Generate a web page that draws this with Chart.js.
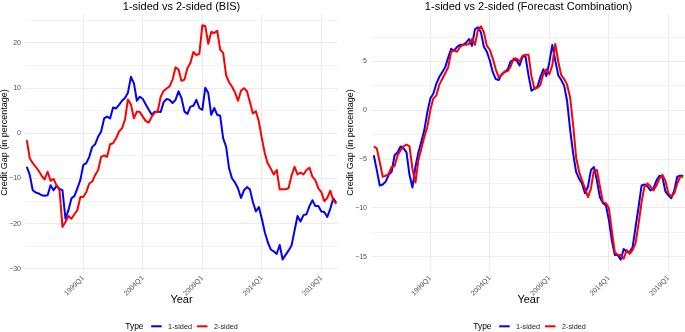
<!DOCTYPE html>
<html>
<head>
<meta charset="utf-8">
<script src="https://cdn.jsdelivr.net/npm/chart.js@4/dist/chart.umd.min.js"></script>
<style>
html,body{margin:0;padding:0;background:#fff;}
#wrap{position:relative;width:685px;height:332px;overflow:hidden;background:#fff;}
#c1{position:absolute;left:0;top:0;}
#c2{position:absolute;left:343px;top:0;}
</style>
</head>
<body>
<div id="wrap">
<canvas id="c1" width="343" height="332"></canvas>
<canvas id="c2" width="342" height="332"></canvas>
</div>
<script>
// ---------- data ----------
const firstYear = 1994, firstQuarter = 2, quarterCount = 105;
const quarters = [];
for (let k = 0; k < quarterCount; k++) {
  const q = firstQuarter - 1 + k;
  quarters.push((firstYear + Math.floor(q / 4)) + 'Q' + (q % 4 + 1));
}
const tickQuarters = ['1999Q1', '2004Q1', '2009Q1', '2014Q1', '2019Q1'];
const seriesNames = ['1-sided', '2-sided'];
const legendTitle = 'Type';
const titles = ['1-sided vs 2-sided (BIS)', '1-sided vs 2-sided (Forecast Combination)'];
const xTitle = 'Year';
const yTitle = 'Credit Gap (in percentage)';

const bisOneSided = [
  -7.4, -9.2, -12.6, -13.1, -13.3, -13.7, -13.8, -13.7, -11.5, -12.6,
  -11.6, -12.3, -12.6, -18.9, -17.0, -14.4, -13.9, -12.2, -10.3, -7.0,
  -6.6, -5.2, -3.0, -2.4, -0.7, 0.4, 3.3, 3.7, 3.3, 5.7,
  5.5, 6.3, 7.2, 7.8, 9.0, 12.5, 11.1, 7.2, 8.1, 7.6,
  6.4, 5.2, 4.1, 4.8, 4.8, 4.7, 6.9, 7.6, 7.4, 6.7,
  7.4, 9.3, 7.8, 4.8, 4.3, 5.9, 6.1, 7.4, 5.6, 5.2,
  10.1, 8.9, 4.1, 5.6, 4.1, 3.9, -1.1, -3.0, -7.8, -10.0,
  -10.9, -12.2, -14.3, -12.6, -11.9, -12.4, -15.2, -17.3, -16.3, -18.9,
  -21.9, -24.1, -25.7, -26.1, -26.7, -24.7, -27.9, -26.9, -25.9, -24.8,
  -21.5, -18.3, -19.5, -18.1, -17.9, -16.1, -14.8, -16.1, -16.1, -17.3,
  -17.4, -18.5, -16.7, -14.4, -15.3
];
const bisTwoSided = [
  -1.5, -5.5, -6.6, -7.4, -8.3, -9.4, -10.2, -8.5, -10.5, -10.1,
  -11.5, -12.6, -20.7, -19.6, -18.3, -18.9, -17.9, -17.0, -14.1, -14.1,
  -13.0, -11.1, -10.7, -9.2, -8.1, -5.2, -4.9, -5.2, -2.4, -2.2,
  -1.1, 0.4, 1.1, 3.0, 7.5, 6.4, 3.3, 4.8, 4.7, 3.7,
  2.7, 2.4, 3.7, 4.6, 4.8, 8.1, 9.4, 9.9, 10.4, 11.9,
  14.6, 14.1, 11.6, 11.9, 14.4, 15.6, 18.0, 17.3, 17.6, 23.9,
  23.7, 19.8, 22.4, 22.2, 22.7, 18.5, 17.8, 12.8, 11.3, 10.3,
  9.0, 7.2, 9.4, 10.0, 9.3, 6.9, 4.4, 4.9, 2.6, -1.1,
  -4.4, -6.7, -7.8, -9.1, -8.1, -12.4, -12.4, -12.4, -12.1, -9.3,
  -7.4, -9.1, -8.7, -9.1, -8.1, -7.6, -9.6, -10.4, -12.2, -13.0,
  -15.0, -14.3, -12.7, -14.8, -15.6
];
const fcOneSided = [
  -4.6, -6.1, -7.7, -7.6, -7.3, -6.6, -6.3, -4.6, -4.3, -3.7,
  -3.9, -4.3, -6.6, -7.9, -5.8, -4.3, -3.2, -2.0, -0.2, 1.2,
  1.7, 2.7, 3.4, 3.9, 4.4, 5.4, 6.3, 6.1, 6.5, 6.7,
  6.7, 6.9, 7.3, 6.6, 8.3, 8.5, 8.0, 6.5, 6.0, 5.1,
  3.9, 3.2, 3.1, 3.7, 3.9, 4.2, 5.0, 5.2, 5.1, 4.6,
  5.5, 5.5, 3.6, 2.0, 2.2, 2.4, 3.4, 4.2, 3.5, 4.9,
  6.7, 5.1, 3.6, 3.1, 2.5, 0.9, -2.0, -4.4, -6.3, -7.0,
  -7.5, -8.5, -7.8, -6.1, -5.8, -7.2, -8.9, -9.5, -9.7, -11.2,
  -13.3, -14.8, -14.8, -15.3, -14.2, -14.5, -14.5, -14.0, -11.9, -9.9,
  -7.7, -7.6, -7.8, -8.2, -8.0, -7.2, -6.7, -6.8, -8.3, -8.7,
  -9.0, -8.2, -6.8, -6.7, -6.7
];
const fcTwoSided = [
  -3.7, -3.9, -5.3, -6.8, -6.7, -6.5, -5.8, -5.7, -4.6, -4.1,
  -3.7, -3.5, -3.7, -6.0, -7.4, -5.1, -3.9, -2.7, -1.7, 0.0,
  1.2, 1.5, 2.6, 3.2, 3.8, 4.4, 6.0, 6.1, 6.0, 6.5,
  6.7, 6.7, 6.8, 7.3, 6.7, 8.2, 8.6, 8.0, 6.6, 6.2,
  5.3, 4.2, 3.4, 3.6, 4.0, 4.0, 4.5, 5.3, 5.3, 5.0,
  5.6, 5.7, 5.7, 3.5, 2.2, 2.3, 2.6, 3.8, 4.2, 3.7,
  4.6, 6.8, 5.0, 3.6, 3.2, 2.6, 1.3, -1.5, -4.8, -6.3,
  -7.2, -8.0, -8.9, -8.0, -6.1, -6.1, -7.8, -9.4, -9.5, -10.0,
  -12.3, -14.5, -14.8, -14.8, -15.2, -14.3, -14.7, -14.3, -13.6, -11.6,
  -9.4, -7.8, -7.5, -7.8, -8.2, -7.7, -7.0, -6.6, -7.2, -8.5,
  -8.8, -8.5, -7.5, -6.8, -6.8
];
const bisYTicks = [-30, -25, -20, -15, -10, -5, 0, 5, 10, 15, 20, 25];
const bisYMajor = [-30, -20, -10, 0, 10, 20];
const fcYTicks = [-15, -12.5, -10, -7.5, -5, -2.5, 0, 2.5, 5, 7.5];
const fcYMajor = [-15, -10, -5, 0, 5];

// ---------- drawing ----------
const FONT = '"Liberation Sans", Arial, Helvetica, sans-serif';
const COLORS = ['#0000FF', '#FF0000'];
const fmt = v => (v < 0 ? '\u2212' + Math.abs(v) : String(v));

const typeLegend = {
  id: 'typeLegend',
  afterDraw(chart, args, o) {
    const ctx = chart.ctx, ca = chart.chartArea;
    const cx = (ca.left + ca.right) / 2 + (o.shift || 0);
    ctx.save();
    ctx.font = '8.5px ' + FONT;
    const wT = ctx.measureText(legendTitle).width;
    ctx.font = '7.3px ' + FONT;
    const w = seriesNames.map(s => ctx.measureText(s).width);
    const gapT = 7.6, seg = 10.5, gapL = 6.4, gapI = 5;
    const total = wT + gapT + (seg + gapL) * 2 + w[0] + gapI + w[1];
    let x = cx - total / 2;
    const yMid = 326.3;
    ctx.fillStyle = '#000';
    ctx.textAlign = 'left';
    ctx.textBaseline = 'alphabetic';
    ctx.font = '8.5px ' + FONT;
    ctx.fillText(legendTitle, x, 329.4);
    x += wT + gapT;
    ctx.font = '7.3px ' + FONT;
    seriesNames.forEach((s, k) => {
      ctx.strokeStyle = COLORS[k];
      ctx.lineWidth = 2;
      ctx.beginPath();
      ctx.moveTo(x, yMid); ctx.lineTo(x + seg, yMid);
      ctx.stroke();
      x += seg + gapL;
      ctx.fillStyle = '#222';
      ctx.fillText(s, x, 328.9);
      x += w[k] + gapI;
    });
    ctx.restore();
  }
};

function build(id, cfg) {
  const tickIdx = tickQuarters.map(q => quarters.indexOf(q));
  const toPts = arr => arr.map((v, i) => ({ x: i, y: v }));
  return new Chart(document.getElementById(id), {
    type: 'line',
    data: {
      datasets: [
        { label: seriesNames[0], data: toPts(cfg.one), borderColor: COLORS[0], backgroundColor: COLORS[0],
          borderWidth: 2, pointRadius: 0, tension: 0, order: 2, borderJoinStyle: 'round' },
        { label: seriesNames[1], data: toPts(cfg.two), borderColor: COLORS[1], backgroundColor: COLORS[1],
          borderWidth: 2, pointRadius: 0, tension: 0, order: 1, borderJoinStyle: 'round' }
      ]
    },
    options: {
      responsive: false,
      animation: false,
      layout: { padding: { left: 0, right: cfg.padRight, top: 0, bottom: 26 } },
      plugins: {
        legend: { display: false },
        tooltip: { enabled: false },
        title: { display: true, text: cfg.title, fullSize: false, color: '#000',
                 font: { family: FONT, size: 11, weight: 'normal', lineHeight: 1 },
                 padding: { top: 1, bottom: 2 } },
        typeLegend: { shift: cfg.legendShift }
      },
      scales: {
        x: {
          type: 'linear', min: -0.6, max: quarterCount - 1 + 0.6,
          afterBuildTicks: s => { s.ticks = tickIdx.map(v => ({ value: v })); },
          afterFit: s => { s.height = 35; },
          ticks: { autoSkip: false, maxRotation: 45, minRotation: 45, padding: 3,
                   font: { family: FONT, size: 7 }, color: '#4D4D4D',
                   callback: v => quarters[v] },
          grid: { color: '#EBEBEB', lineWidth: 1, drawTicks: false },
          border: { display: false },
          title: { display: true, text: xTitle, color: '#000',
                   font: { family: FONT, size: 11, lineHeight: 1 },
                   padding: { top: 0, bottom: 0.5 } }
        },
        y: {
          type: 'linear', min: cfg.ymin, max: cfg.ymax,
          afterBuildTicks: s => { s.ticks = cfg.yticks.map(v => ({ value: v })); },
          afterFit: s => { s.width = cfg.yWidth; },
          ticks: { autoSkip: false, padding: cfg.tickPad, font: { family: FONT, size: 7 }, color: '#4D4D4D',
                   callback: v => (cfg.major.includes(v) ? fmt(v) : '') },
          grid: {
            drawTicks: false,
            color: c => (c.tick && cfg.major.includes(c.tick.value) ? '#EBEBEB' : '#F3F3F3'),
            lineWidth: 1
          },
          border: { display: false },
          title: { display: true, text: yTitle, color: '#000',
                   font: { family: FONT, size: 9, lineHeight: 1 },
                   padding: { top: cfg.yTitlePad, bottom: 0 } }
        }
      }
    },
    plugins: [typeLegend]
  });
}

build('c1', {
  title: titles[0], one: bisOneSided, two: bisTwoSided,
  ymin: -30.46, ymax: 26.4, yticks: bisYTicks, major: bisYMajor,
  yWidth: 25, padRight: 5, tickPad: 4, yTitlePad: 0, legendShift: 0
});
build('c2', {
  title: titles[1], one: fcOneSided, two: fcTwoSided,
  ymin: -16.45, ymax: 9.86, yticks: fcYTicks, major: fcYMajor,
  yWidth: 29, padRight: 0, tickPad: 5, yTitlePad: 3, legendShift: 1
});
</script>
</body>
</html>
